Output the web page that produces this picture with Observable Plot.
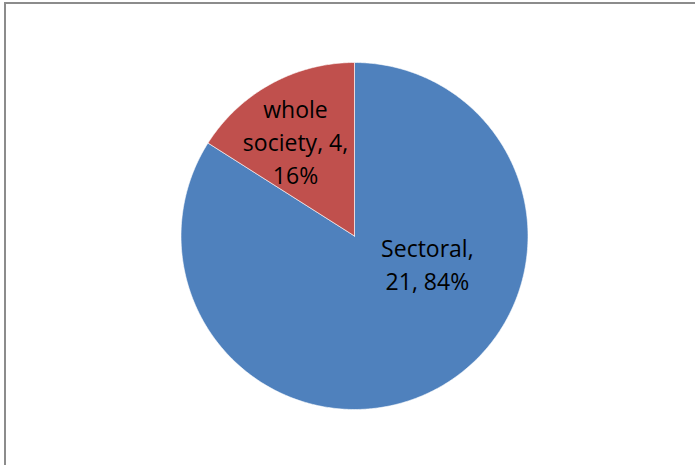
<!DOCTYPE html>
<html>
<head>
<meta charset="utf-8">
<script src="https://cdn.jsdelivr.net/npm/d3@7"></script>
<script src="https://cdn.jsdelivr.net/npm/@observablehq/plot@0.6"></script>
<style>
  html, body { margin: 0; padding: 0; background: #fff; overflow: hidden; }
  #wrap { position: relative; width: 695px; height: 465px; }
  #frame { position: absolute; left: 4px; top: 2px; width: 720px; height: 500px;
           border-left: 2px solid #8c8c8c; border-top: 2px solid #8c8c8c; box-sizing: border-box; }
  #chart { position: absolute; left: 0; top: 0; }
</style>
</head>
<body>
<div id="wrap"><div id="frame"></div><div id="chart"></div></div>
<script>
// ---- data ----
const categories = ["Sectoral", "whole society"];
const counts = [21, 4];
const percents = ["84%", "16%"];
const colors = ["#4F81BD", "#C0504D"];
// label text lines (wrapping as shown in the chart)
const labelLines = [["Sectoral,", "21, 84%"], ["whole", "society, 4,", "16%"]];

// ---- layout ----
const W = 695, H = 465;
const cx = 354, cy = 235.5, R = 173.5;           // pie centre & radius in pixels
const labelOffsets = [[0.42, -0.158], [-0.34, 0.55]]; // in radius units (x right, y up)

const total = d3.sum(counts);
let cum = 0;
const slicePts = [];
categories.forEach((c, i) => {
  const a0 = cum / total * 2 * Math.PI;
  cum += counts[i];
  const a1 = cum / total * 2 * Math.PI;
  const n = Math.max(2, Math.ceil((a1 - a0) / (Math.PI / 360)));
  slicePts.push({cat: c, x: 0, y: 0});
  for (let k = 0; k <= n; k++) {
    const a = a0 + (a1 - a0) * k / n;
    slicePts.push({cat: c, x: Math.sin(a), y: Math.cos(a)});
  }
  slicePts.push({cat: c, x: 0, y: 0});
});

const labels = categories.map((c, i) => ({
  cat: c,
  x: labelOffsets[i][0],
  y: labelOffsets[i][1],
  text: labelLines[i].join("\n")
}));

const chart = Plot.plot({
  width: W, height: H,
  margin: 0,
  x: {domain: [-cx / R, (W - cx) / R], axis: null},
  y: {domain: [-(H - cy) / R, cy / R], axis: null},
  color: {domain: categories, range: colors},
  style: {background: "transparent"},
  marks: [
    Plot.line(slicePts, {x: "x", y: "y", z: "cat", fill: "cat", stroke: "white", strokeWidth: 0.6, curve: "linear"}),
    Plot.text(labels, {x: "x", y: "y", text: "text", fill: "black", fontSize: 23,
      fontFamily: "'Open Sans', sans-serif", lineHeight: 1.435, lineAnchor: "middle", textAnchor: "middle"})
  ]
});
document.getElementById("chart").appendChild(chart);
</script>
</body>
</html>
